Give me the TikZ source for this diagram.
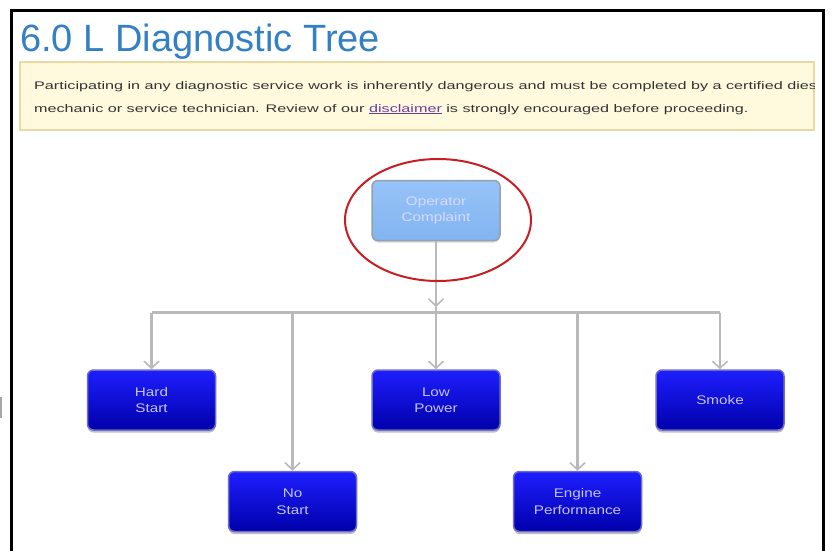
\documentclass[tikz,border=0pt]{standalone}
\usepackage{fontspec}
\setmainfont{Liberation Sans}
\usetikzlibrary{arrows.meta,shadows}
\definecolor{titleblue}{RGB}{52,128,196}
\definecolor{warnfill}{RGB}{255,250,222}
\definecolor{warnedge}{RGB}{232,218,160}
\definecolor{linkpurple}{RGB}{110,60,160}
\definecolor{conn}{RGB}{185,185,185}
\definecolor{boxtop}{RGB}{30,30,255}
\definecolor{boxbot}{RGB}{0,0,170}
\definecolor{boxedge}{RGB}{110,110,200}
\definecolor{optop}{RGB}{150,195,248}
\definecolor{opbot}{RGB}{130,180,240}
\definecolor{opedge}{RGB}{150,160,175}
\definecolor{ringred}{RGB}{200,30,35}
\definecolor{leaftext}{RGB}{195,195,255}
\newcommand{\widetxt}[1]{\scalebox{1.22}[1]{#1}}
\tikzset{
  leafbox/.style={draw=boxedge, line width=1.5pt, rounded corners=6pt,
    top color=boxtop, bottom color=boxbot, minimum width=128pt, minimum height=60pt,
    align=center, font=\fontsize{12.5}{16.5}\selectfont, text=leaftext,
    drop shadow={shadow xshift=0pt, shadow yshift=-2.5pt, fill=black!25, opacity=1}},
  opbox/.style={draw=opedge, line width=1.5pt, rounded corners=6pt,
    top color=optop, bottom color=opbot, minimum width=128pt, minimum height=60pt,
    align=center, font=\fontsize{12.5}{16.5}\selectfont, text=white!85!blue,
    drop shadow={shadow xshift=0pt, shadow yshift=-2pt, fill=black!15, opacity=1}},
  link/.style={draw=conn, line width=2.6pt},
  tip/.style={-{Straight Barb[length=7pt,width=15pt,line width=1.6pt]}},
  warntext/.style={anchor=base west, inner sep=0pt, font=\fontsize{11}{12}\selectfont, text=black!80},
}
\begin{document}
\begin{tikzpicture}[x=1pt,y=-1pt]
\useasboundingbox (0,0) rectangle (832,550);
\fill[white] (0,0) rectangle (832,550);
% frame
\draw[line width=3pt] (11,570) -- (11,10) -- (823,10) -- (823,570);
\fill[black!35] (0,397) rectangle (2,418);
% title
\node[anchor=base west, inner sep=0pt, text=titleblue, font=\fontsize{38}{40}\selectfont] (title) at (20,51) {6.0 L Diagnostic Tree};
% warning box
\draw[fill=warnfill, draw=warnedge, line width=1.5pt] (20,62) rectangle (814,130);
\begin{scope}
\clip (20,62) rectangle (814,130);
\node[warntext] (w1) at (34,89)
  {\scalebox{1.47}[1]{Participating in any diagnostic service work is inherently dangerous and must be completed by a certified diesel}};
\node[warntext] (w2) at (34,112)
  {\scalebox{1.47}[1]{mechanic or service technician. Review of our \textcolor{linkpurple}{\underline{disclaimer}} is strongly encouraged before proceeding.}};
\end{scope}
% nodes
\node[opbox] (op) at (436,210.5) {\widetxt{Operator}\\\widetxt{Complaint}};
\node[leafbox] (hs) at (151.5,400) {\widetxt{Hard}\\\widetxt{Start}};
\node[leafbox] (ns) at (292.5,501.5) {\widetxt{No}\\\widetxt{Start}};
\node[leafbox] (lp) at (436,400) {\widetxt{Low}\\\widetxt{Power}};
\node[leafbox] (ep) at (577.5,501.5) {\widetxt{Engine}\\\widetxt{Performance}};
\node[leafbox] (sm) at (720,400) {\widetxt{Smoke}};
% connectors
\coordinate (tk) at (436,307);
\coordinate (bar) at (436,312.5);
\coordinate (bl) at (151.5,312.5);
\coordinate (br) at (720,312.5);
\draw[link, tip] (op.south) -- (tk);
\draw[link] (tk) -- (bar);
\draw[link] (bl) -- (br);
\draw[link, tip] (bl) -- (hs.north);
\draw[link, tip] (ns.north |- bar) -- (ns.north);
\draw[link, tip] (bar) -- (lp.north);
\draw[link, tip] (ep.north |- bar) -- (ep.north);
\draw[link, tip] (br) -- (sm.north);
% highlight ring
\draw[ringred, line width=2pt] (438,220) ellipse [x radius=93, y radius=61];
\end{tikzpicture}
\end{document}
